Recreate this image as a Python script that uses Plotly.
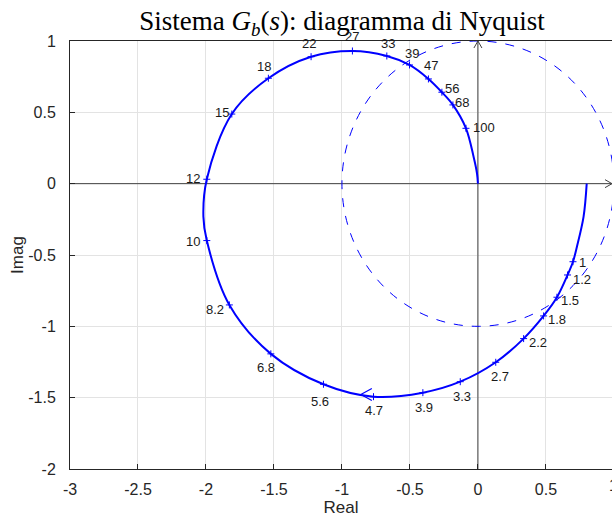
import plotly.graph_objects as go

# ---- data ----
# Nyquist curve points (real, imag); freq label = None for unlabeled curve points
curve_re = [0.80, 0.777, 0.728, 0.699, 0.659, 0.581, 0.483, 0.336, 0.131, -0.130, -0.405, -0.768,
            -1.136, -1.523, -1.828, -1.994, -2.019, -1.994, -1.810, -1.541, -1.227, -0.923, -0.670,
            -0.503, -0.364, -0.265, -0.184, -0.088, -0.032, -0.007, 0.0]
curve_im = [0.0, -0.231, -0.442, -0.547, -0.640, -0.796, -0.927, -1.086, -1.252, -1.388, -1.465, -1.493,
            -1.406, -1.193, -0.850, -0.399, -0.231, 0.031, 0.488, 0.739, 0.890, 0.930, 0.895,
            0.832, 0.734, 0.641, 0.552, 0.388, 0.189, 0.073, 0.0]
curve_freq = [None, None, None, "1", "1.2", "1.5", "1.8", "2.2", "2.7", "3.3", "3.9", "4.7",
              "5.6", "6.8", "8.2", "10", None, "12", "15", "18", "22", "27", "33",
              "39", "47", "56", "68", "100", None, None, None]

x_ticks = [-3, -2.5, -2, -1.5, -1, -0.5, 0, 0.5]
x_ticktext = ["-3", "-2.5", "-2", "-1.5", "-1", "-0.5", "0", "0.5"]
x_edge_tick = 1
y_ticks = [-2, -1.5, -1, -0.5, 0, 0.5, 1]
y_ticktext = ["-2", "-1.5", "-1", "-0.5", "0", "0.5", "1"]
unit_radius = 1.0
arrow_point = (-0.861, -1.478)
x_view_max = 0.986

# ---- styles: label pixel offsets (dx right, dy down) per labeled frequency ----
label_offsets = {
    "1": (10, 1), "1.2": (14, 5), "1.5": (13, 3), "1.8": (13, 4), "2.2": (14, 4),
    "2.7": (4, 14), "3.3": (2, 15), "3.9": (1, 15), "4.7": (0, 14), "5.6": (-3, 17),
    "6.8": (-5, 14), "8.2": (-14, 5), "10": (-14, 1), "12": (-14, -1), "15": (-10, -2),
    "18": (-4, -12), "22": (-2, -13), "27": (0, -14), "33": (1, -12), "39": (2, -11),
    "47": (3, -13), "56": (10, -4), "68": (9, -2), "100": (18, -1),
}

BLUE = "#0000ff"
DARK = "#262626"
AXGRAY = "#404040"
FONT = "Liberation Sans, Arial, sans-serif"

mk_re = [r for r, f in zip(curve_re, curve_freq) if f is not None]
mk_im = [i for i, f in zip(curve_im, curve_freq) if f is not None]
mk_lab = [f for f in curve_freq if f is not None]

fig = go.Figure()
fig.add_trace(go.Scatter(x=curve_re, y=curve_im, mode="lines",
                         line=dict(color=BLUE, width=2, shape="spline", smoothing=1.0),
                         hoverinfo="skip", showlegend=False))
fig.add_trace(go.Scatter(x=mk_re, y=mk_im, mode="markers",
                         marker=dict(symbol="cross-thin", size=5, line=dict(color=BLUE, width=1)),
                         showlegend=False))

# unit circle (dashed)
fig.add_shape(type="circle", xref="x", yref="y",
              x0=-unit_radius, x1=unit_radius, y0=-unit_radius, y1=unit_radius,
              line=dict(color=BLUE, width=1, dash="dash"), layer="above")

# axes through the origin
fig.add_shape(type="line", xref="x", yref="y", x0=x_ticks[0], x1=x_view_max, y0=0, y1=0,
              line=dict(color=AXGRAY, width=1), layer="between")
fig.add_shape(type="line", xref="x", yref="y", x0=0, x1=0, y0=y_ticks[0], y1=y_ticks[-1],
              line=dict(color=AXGRAY, width=1), layer="between")
# arrowheads (pixel-sized paths anchored at data points)
fig.add_shape(type="path", xref="x", yref="y", xsizemode="pixel", ysizemode="pixel",
              xanchor=x_view_max, yanchor=0, path="M -7,4 L 0,0 L -7,-4",
              line=dict(color=AXGRAY, width=1))
fig.add_shape(type="path", xref="x", yref="y", xsizemode="pixel", ysizemode="pixel",
              xanchor=0, yanchor=y_ticks[-1], path="M -4,-7 L 0,0 L 4,-7",
              line=dict(color=AXGRAY, width=1))
# direction arrow on the curve
fig.add_shape(type="path", xref="x", yref="y", xsizemode="pixel", ysizemode="pixel",
              xanchor=arrow_point[0], yanchor=arrow_point[1], path="M 11,6 L 0,0 L 11,-6",
              line=dict(color=BLUE, width=1.2))

annotations = []
for r, i, lab in zip(mk_re, mk_im, mk_lab):
    dx, dy = label_offsets[lab]
    annotations.append(dict(x=r, y=i, xref="x", yref="y", text=lab, showarrow=False,
                            xshift=dx, yshift=-dy, font=dict(family=FONT, size=13, color="#1a1a1a")))

# partially visible tick label at x = 1 (just past the visible edge)
edge_paper_x = (x_edge_tick - x_ticks[0]) / (x_view_max - x_ticks[0])
annotations.append(dict(x=edge_paper_x, y=0, xref="paper", yref="paper", text=str(x_edge_tick),
                        showarrow=False, xanchor="center", yanchor="top", yshift=-6,
                        font=dict(family=FONT, size=16, color=DARK)))

fig.update_layout(
    width=612, height=519,
    margin=dict(l=70, r=0, t=41, b=50, autoexpand=False),
    plot_bgcolor="white", paper_bgcolor="white",
    title=dict(text="Sistema <i>G</i><sub><i>b</i></sub>(<i>s</i>): diagramma di Nyquist",
               x=(70 + 614) / 2 / 612, xanchor="center", y=1 - 21 / 519, yanchor="middle",
               yref="container", xref="container", automargin=False,
               font=dict(family="Liberation Serif, DejaVu Serif, serif", size=27, color="black")),
    annotations=annotations,
    showlegend=False,
)

fig.update_xaxes(range=[x_ticks[0], x_view_max], tickvals=x_ticks, ticktext=x_ticktext,
                 showgrid=True, gridcolor="#e3e3e3", gridwidth=1, automargin=False,
                 ticks="inside", ticklen=5, tickcolor=DARK, ticklabelstandoff=6,
                 showline=True, linecolor=DARK, linewidth=1, mirror=True,
                 zeroline=False, tickfont=dict(family=FONT, size=16, color=DARK),
                 title=dict(text="Real", font=dict(family=FONT, size=17, color=DARK), standoff=2))
fig.update_yaxes(range=[y_ticks[0], y_ticks[-1]], tickvals=y_ticks, ticktext=y_ticktext,
                 showgrid=True, gridcolor="#e3e3e3", gridwidth=1, automargin=False,
                 ticks="inside", ticklen=5, tickcolor=DARK, ticklabelstandoff=10,
                 showline=True, linecolor=DARK, linewidth=1, mirror=False,
                 zeroline=False, tickfont=dict(family=FONT, size=16, color=DARK),
                 title=dict(text="Imag", font=dict(family=FONT, size=17, color=DARK), standoff=0))

fig.write_html("out.html", config={"displayModeBar": False},
               post_script="document.body.style.margin='0px';document.body.style.overflow='hidden';")
